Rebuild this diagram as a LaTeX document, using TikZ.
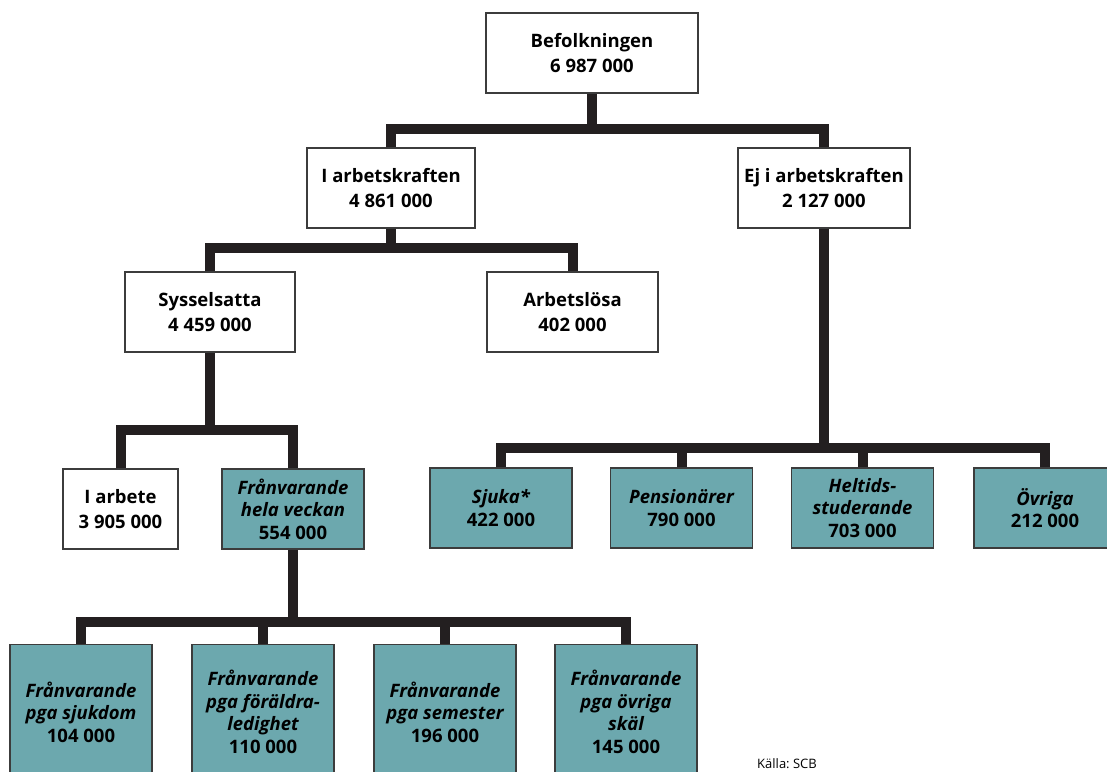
\documentclass[tikz,border=0pt]{standalone}
\usepackage{fontspec}
\setmainfont{Open Sans}
\usepackage{xcolor}
\frenchspacing
\definecolor{boxteal}{RGB}{108,168,174}
\definecolor{linedark}{RGB}{35,31,32}
\definecolor{edgegray}{RGB}{60,60,60}

\tikzset{
  whitebox/.style={draw=edgegray,line width=1.5pt,fill=white,align=center,inner sep=0pt,
    font=\fontsize{18.5}{25}\selectfont\bfseries},
  tealbox/.style={draw=edgegray,line width=1.5pt,fill=boxteal,align=center,inner sep=0pt,
    font=\fontsize{18.5}{22.5}\selectfont\bfseries,minimum width=142pt},
  conn/.style={draw=linedark,line width=10pt,line join=miter}
}

\begin{document}
\begin{tikzpicture}[x=1pt,y=-1pt]
        \useasboundingbox (0,0) rectangle (1107,771);
        % branch levels
        \coordinate (bar1) at (0,129);
        \coordinate (bar2) at (0,248);
        \coordinate (bar3) at (0,430);
        \coordinate (bar4) at (0,622);
        \coordinate (bar5) at (0,448);
        % top
        \node[whitebox,minimum width=212pt,minimum height=80pt] (bef) at (592,53) {Befolkningen\\6~987~000};
        % labour force
        \node[whitebox,minimum width=168pt,minimum height=80pt] (iak) at (391,188) {I arbetskraften\\4~861~000};
        \node[whitebox,minimum width=172pt,minimum height=80pt] (ejak) at (824,188) {Ej i arbetskraften\\2~127~000};
        \node[whitebox,minimum width=170pt,minimum height=80pt] (syss) at (210,312) {Sysselsatta\\4~459~000};
        \node[whitebox,minimum width=171pt,minimum height=80pt] (arbl) at (572.5,312) {Arbetslösa\\402~000};
        \node[whitebox,minimum width=115pt,minimum height=80pt] (iarb) at (120.5,509) {I arbete\\3~905~000};
        \node[tealbox,minimum height=80pt] (franv) at (293,509) {\itshape Frånvarande\\\itshape hela veckan\\554~000};
        % outside labour force
        \node[tealbox,minimum height=80pt] (sjuka) at (501,508) {\itshape Sjuka*\\422~000};
        \node[tealbox,minimum height=80pt] (pens) at (681.5,508) {\itshape Pensionärer\\790~000};
        \node[tealbox,minimum height=80pt] (helt) at (862.5,508) {\itshape Heltids-\\\itshape studerande\\703~000};
        \node[tealbox,minimum height=80pt] (ovr) at (1045,508) {\itshape Övriga\\212~000};
        % absent
        \node[tealbox,minimum height=135pt] (sjukd) at (81,712) {\itshape Frånvarande\\\itshape pga sjukdom\\104~000};
        \node[tealbox,minimum height=135pt] (foral) at (263,712) {\itshape Frånvarande\\\itshape pga föräldra-\\\itshape ledighet\\110~000};
        \node[tealbox,minimum height=135pt] (seme) at (445,712) {\itshape Frånvarande\\\itshape pga semester\\196~000};
        \node[tealbox,minimum height=135pt] (ovsk) at (626,712) {\itshape Frånvarande\\\itshape pga övriga\\\itshape skäl\\145~000};
        % connectors
        \draw[conn] (bef.south) -- (bef.south |- bar1);
        \draw[conn] (iak.north) -- (iak.north |- bar1) -- (ejak.north |- bar1) -- (ejak.north);
        \draw[conn] (iak.south) -- (iak.south |- bar2);
        \draw[conn] (syss.north) -- (syss.north |- bar2) -- (arbl.north |- bar2) -- (arbl.north);
        \draw[conn] (syss.south) -- (syss.south |- bar3);
        \draw[conn] (iarb.north) -- (iarb.north |- bar3) -- (franv.north |- bar3) -- (franv.north);
        \draw[conn] (franv.south) -- (franv.south |- bar4);
        \draw[conn] (sjukd.north) -- (sjukd.north |- bar4) -- (ovsk.north |- bar4) -- (ovsk.north);
        \draw[conn] (foral.north) -- (foral.north |- bar4);
        \draw[conn] (seme.north) -- (seme.north |- bar4);
        \draw[conn] (ejak.south) -- (ejak.south |- bar5);
        \draw[conn] (sjuka.north) -- (sjuka.north |- bar5) -- (ovr.north |- bar5) -- (ovr.north);
        \draw[conn] (pens.north) -- (pens.north |- bar5);
        \draw[conn] (helt.north) -- (helt.north |- bar5);
        % source
        \node[anchor=south west,inner sep=0pt,font=\fontsize{13}{15}\selectfont] (kalla) at (757,769) {Källa: SCB};
    \end{tikzpicture}
\end{document}
